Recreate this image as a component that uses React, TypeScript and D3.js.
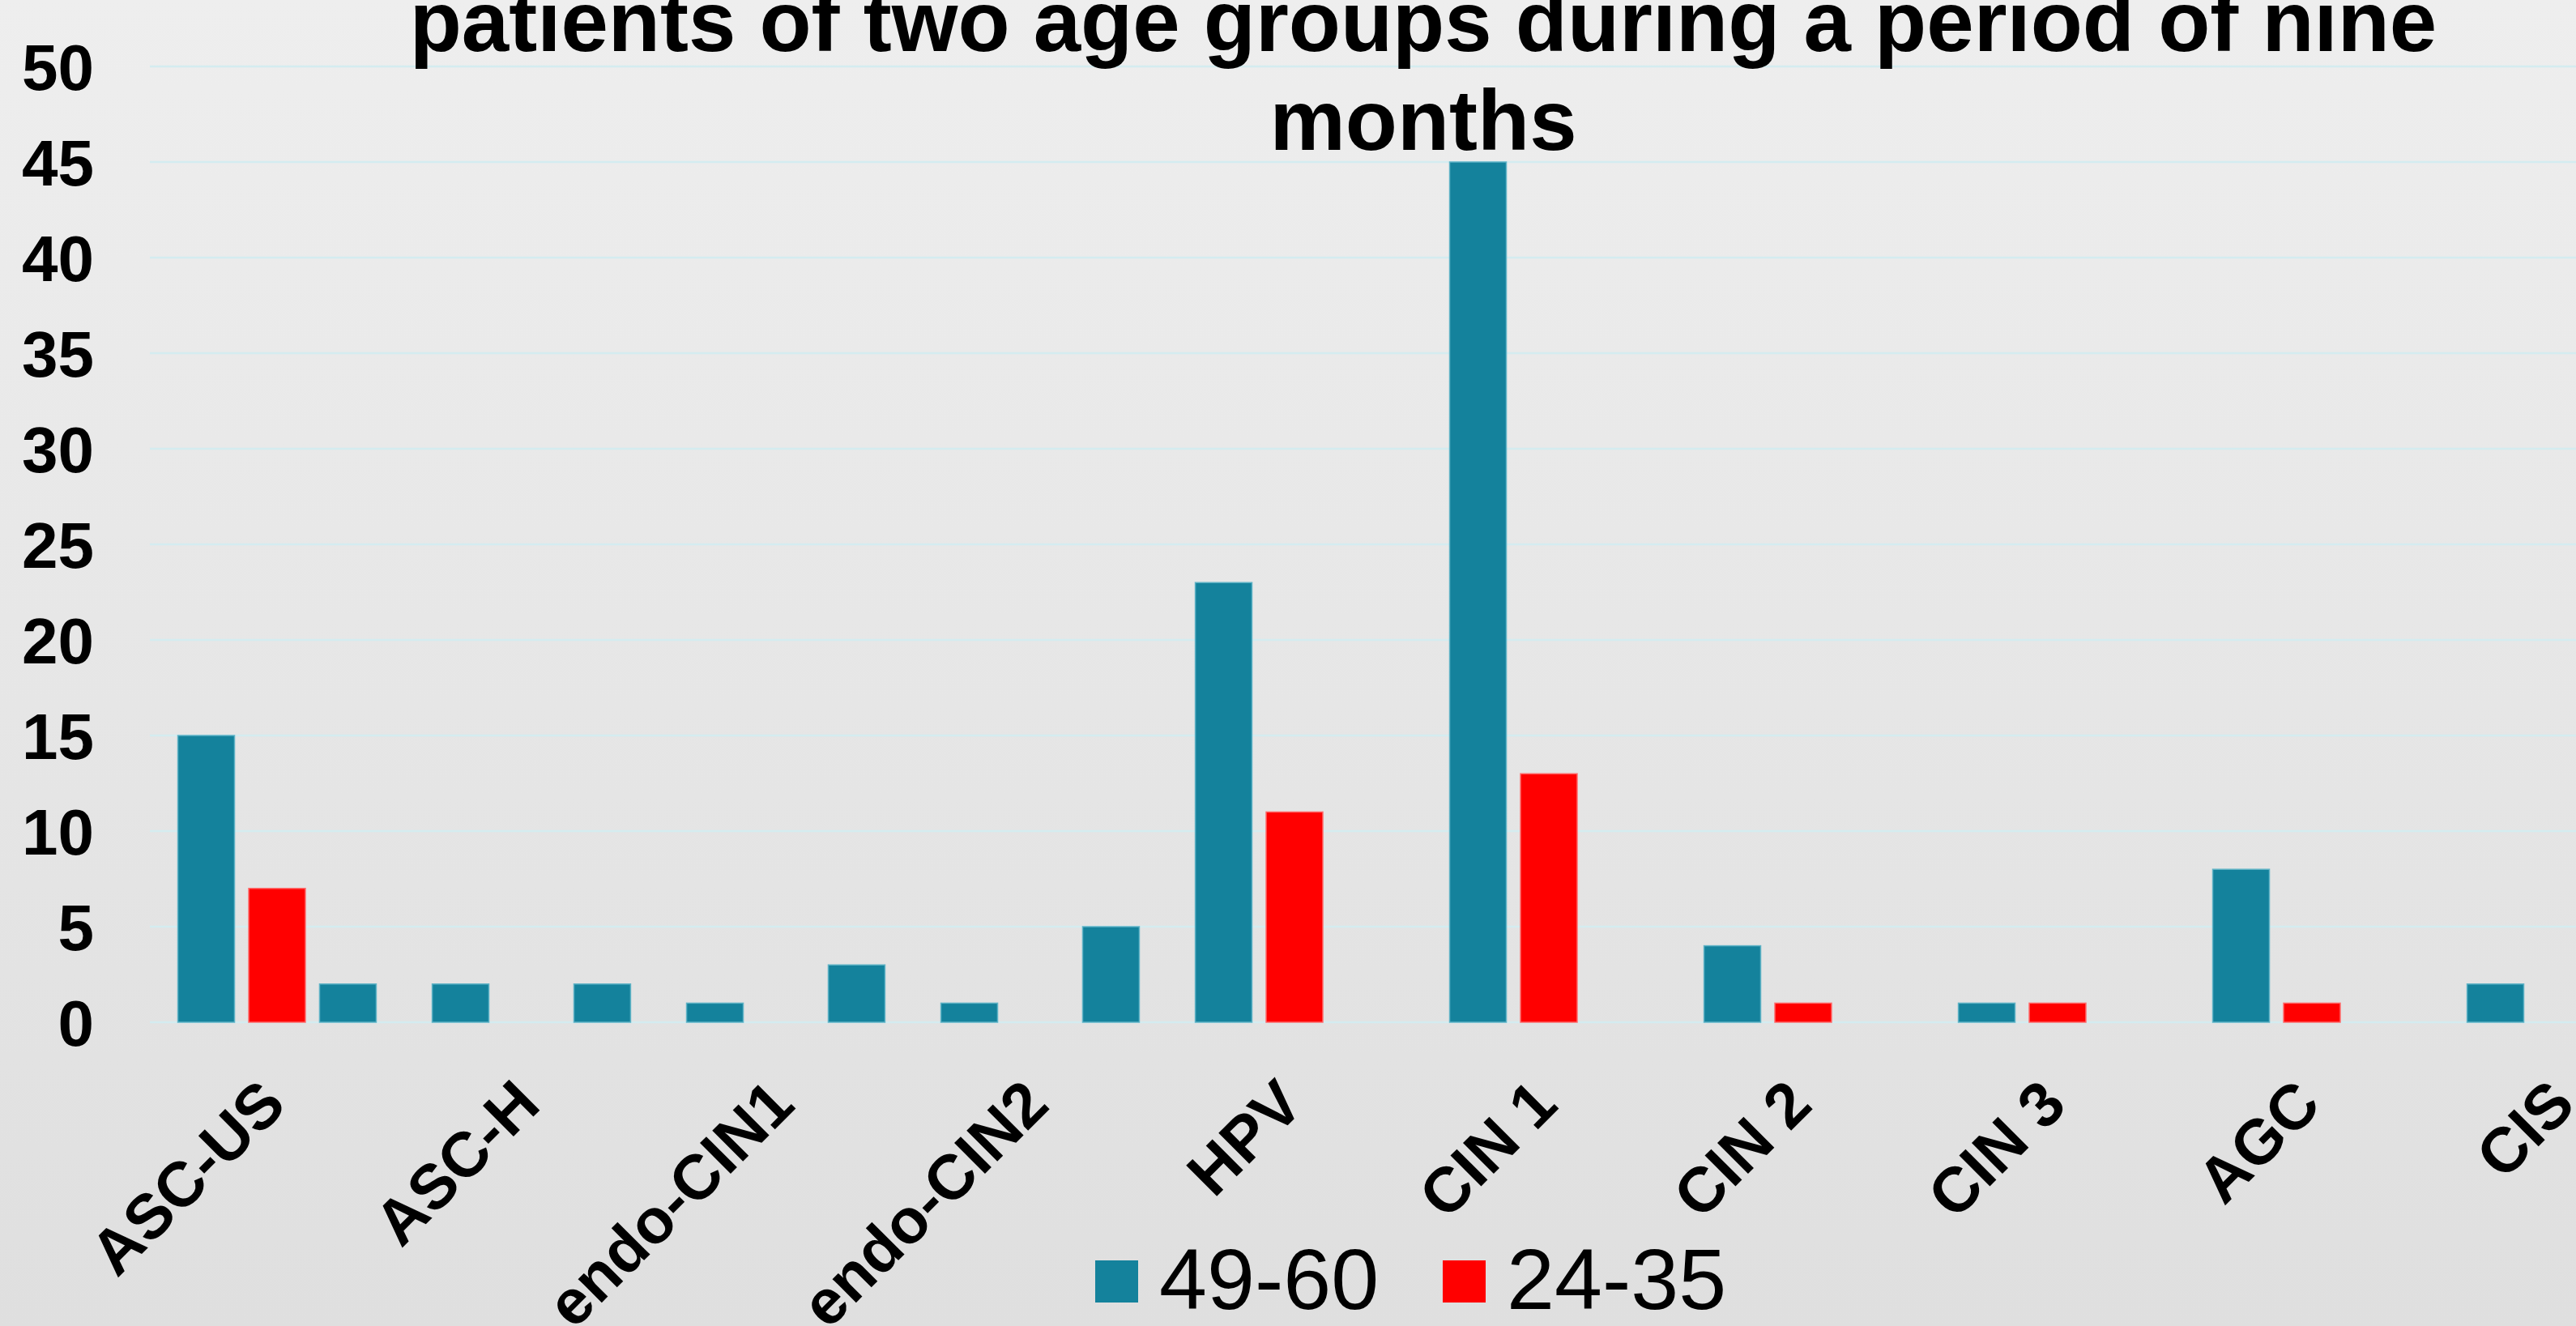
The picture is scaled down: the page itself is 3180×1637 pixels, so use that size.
import React from "react";
import * as d3 from "d3";

const categories = ["ASC-US", "ASC-H", "endo-CIN1", "endo-CIN2", "HPV", "CIN 1", "CIN 2", "CIN 3", "AGC", "CIS"];
const series1 = [15, 2, 1, 1, 23, 45, 4, 1, 8, 2]; // 49-60
const series2 = [7, 0, 0, 0, 11, 13, 1, 1, 1, 0]; // 24-35
const series3 = [2, 2, 3, 5, 0, 0, 0, 0, 0, 0]; // unnamed third series
const seriesNames = ["49-60", "24-35", ""];
const seriesColors = ["#14829C", "#FF0000", "#14829C"];
const yTicks = [0, 5, 10, 15, 20, 25, 30, 35, 40, 45, 50];
const legendItems = [
  { name: "49-60", color: "#14829C" },
  { name: "24-35", color: "#FF0000" },
];
const titleLines = ["patients of two age groups during a period of nine", "months"];

const W = 3180;
const H = 1637;
const FONT = "Arial, 'Liberation Sans', Helvetica, sans-serif";

export default function App() {
  const allSeries = [series1, series2, series3];
  const x = d3.scaleBand<string>().domain(categories).range([185, 3325]).paddingInner(0.22).paddingOuter(0.11);
  const xs = d3.scaleBand<string>().domain(["0", "1", "2"]).range([0, x.bandwidth()]).paddingInner(0.2).paddingOuter(0);
  const y = d3.scaleLinear().domain([0, 50]).range([1262, 82]);

  return (
    <div style={{ position: "fixed", left: 0, top: 0, width: W, height: H, overflow: "hidden" }}>
      <svg width={W} height={H} style={{ display: "block" }}>
        <defs>
          <linearGradient id="bg" x1="0" y1="0" x2="0" y2="1">
            <stop offset="0" stopColor="#eeeeee" />
            <stop offset="1" stopColor="#dfdfdf" />
          </linearGradient>
        </defs>
        <rect x={0} y={0} width={W} height={H} fill="url(#bg)" />

        {/* gridlines */}
        {yTicks.map((t) => (
          <line key={"g" + t} x1={185} x2={3325} y1={y(t)} y2={y(t)} stroke="#d4ecf0" strokeWidth={2.5} />
        ))}

        {/* y tick labels */}
        {yTicks.map((t) => (
          <text
            key={"yt" + t}
            x={116}
            y={y(t)}
            dy="0.36em"
            textAnchor="end"
            fontFamily={FONT}
            fontWeight="bold"
            fontSize={80}
            fill="#000"
          >
            {t}
          </text>
        ))}

        {/* bars */}
        {allSeries.map((vals, si) =>
          categories.map((c, ci) => {
            const v = vals[ci];
            if (!v) return null;
            const bx = (x(c) as number) + (xs(String(si)) as number);
            return (
              <rect
                key={`b${si}-${ci}`}
                x={bx}
                y={y(v)}
                width={xs.bandwidth()}
                height={y(0) - y(v)}
                fill={seriesColors[si]}
                stroke={si === 1 ? "#ff6a6a" : "#5fb3c6"}
                strokeWidth={1.5}
              />
            );
          })
        )}

        {/* x labels */}
        {categories.map((c) => {
          const cx = (x(c) as number) + x.bandwidth() / 2;
          return (
            <text
              key={"xl" + c}
              transform={`translate(${cx + 14},${1367}) rotate(-45)`}
              textAnchor="end"
              fontFamily={FONT}
              fontWeight="bold"
              fontSize={78}
              fill="#000"
            >
              {c}
            </text>
          );
        })}

        {/* title */}
        {titleLines.map((t, i) => (
          <text
            key={"t" + i}
            x={1757}
            y={63 + i * 122}
            textAnchor="middle"
            fontFamily={FONT}
            fontWeight="bold"
            fontSize={105}
            fill="#000"
          >
            {t}
          </text>
        ))}

        {/* legend */}
        {legendItems.map((it, i) => {
          const lx = 1352 + i * 429;
          return (
            <g key={"lg" + i}>
              <rect x={lx} y={1556} width={53} height={52} fill={it.color} />
              <text x={lx + 79} y={1616} fontFamily={FONT} fontSize={106} fill="#000">
                {it.name}
              </text>
            </g>
          );
        })}
      </svg>
    </div>
  );
}
